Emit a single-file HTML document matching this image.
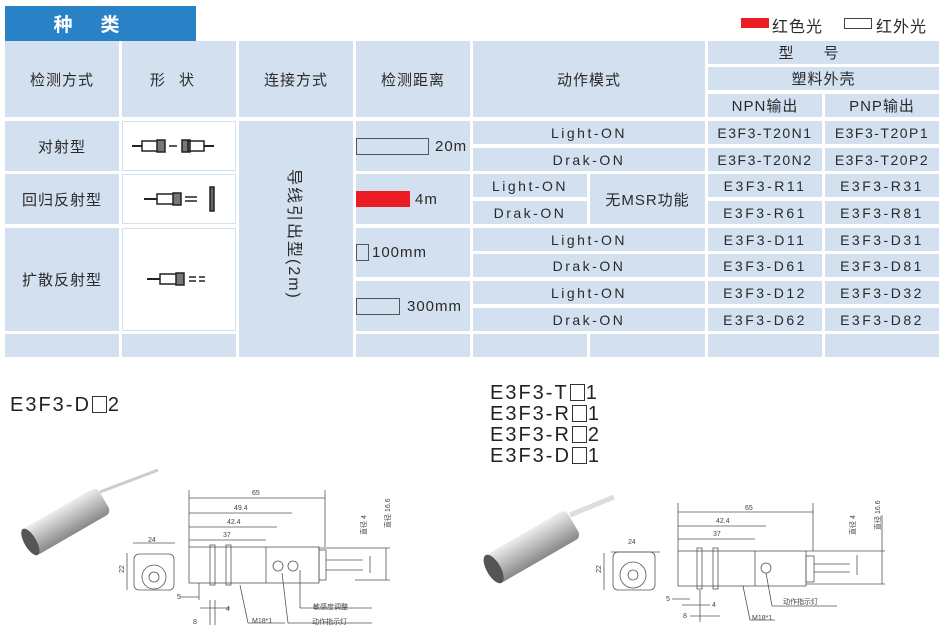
<!DOCTYPE html>
<html><head><meta charset="utf-8"><style>
body{margin:0;width:944px;height:644px;background:#fff;position:relative;overflow:hidden;font-family:"Liberation Sans","Noto Sans CJK SC",sans-serif;color:#2a2a2a}
.c{position:absolute;background:#d3e0ef;display:flex;align-items:center;justify-content:center;font-size:15px;letter-spacing:1px;white-space:nowrap}
.w{background:#fff;box-shadow:inset 0 0 0 1px #d3e0ef}
.m{font-size:14px;letter-spacing:2.5px}
.t{position:absolute;font-size:20px;letter-spacing:2px;color:#222;line-height:21px}
.bx{display:inline-block;width:13px;height:15px;border:1.5px solid #333;vertical-align:-2px;margin:0 1px}
</style></head><body>
<div style="position:absolute;left:5px;top:6px;width:191px;height:35px;background:#2a82c6;color:#fff;font-weight:bold;font-size:19px;display:flex;align-items:center;justify-content:center;letter-spacing:28px">种类</div>
<div style="position:absolute;left:741px;top:18px;width:28px;height:10px;background:#ec1c24"></div>
<div style="position:absolute;left:772px;top:13px;font-size:16px;letter-spacing:1px">红色光</div>
<div style="position:absolute;left:844px;top:18px;width:26px;height:9px;border:1px solid #444"></div>
<div style="position:absolute;left:876px;top:13px;font-size:16px;letter-spacing:1px">红外光</div>

<div class="c" style="left:5px;top:41px;width:114px;height:76px">检测方式</div>
<div class="c" style="left:122px;top:41px;width:114px;height:76px;letter-spacing:14px">形状</div>
<div class="c" style="left:239px;top:41px;width:114px;height:76px">连接方式</div>
<div class="c" style="left:356px;top:41px;width:114px;height:76px">检测距离</div>
<div class="c" style="left:473px;top:41px;width:232px;height:76px">动作模式</div>
<div class="c" style="left:708px;top:41px;width:231px;height:23px;letter-spacing:30px">型号</div>
<div class="c" style="left:708px;top:67px;width:231px;height:23px">塑料外壳</div>
<div class="c" style="left:708px;top:94px;width:114px;height:23px">NPN输出</div>
<div class="c" style="left:825px;top:94px;width:114px;height:23px">PNP输出</div>

<div class="c" style="left:5px;top:121px;width:114px;height:50px">对射型</div>
<div class="c" style="left:5px;top:174px;width:114px;height:50px">回归反射型</div>
<div class="c" style="left:5px;top:228px;width:114px;height:103px">扩散反射型</div>
<div class="c" style="left:5px;top:334px;width:114px;height:23px"></div>

<div class="c w" style="left:122px;top:121px;width:114px;height:50px"><svg width="114" height="50"><g stroke="#222" fill="none" stroke-width="1.5"><line x1="10" y1="25" x2="20" y2="25" stroke-width="2"/><rect x="20" y="20" width="18" height="10"/><rect x="35" y="19" width="8" height="12" fill="#777"/><line x1="47" y1="25" x2="55" y2="25"/><rect x="60" y="19" width="8" height="12" fill="#777"/><rect x="66" y="20" width="16" height="10"/><line x1="82" y1="25" x2="92" y2="25" stroke-width="2"/></g></svg></div>
<div class="c w" style="left:122px;top:174px;width:114px;height:50px"><svg width="114" height="50"><g stroke="#222" fill="none" stroke-width="1.5"><line x1="22" y1="25" x2="35" y2="25" stroke-width="2"/><rect x="35" y="20" width="18" height="10"/><rect x="51" y="19" width="8" height="12" fill="#777"/><line x1="63" y1="23" x2="75" y2="23"/><line x1="63" y1="27" x2="75" y2="27"/><rect x="88" y="13" width="4" height="24" fill="#666"/></g></svg></div>
<div class="c w" style="left:122px;top:228px;width:114px;height:103px"><svg width="114" height="103"><g stroke="#222" fill="none" stroke-width="1.5"><line x1="25" y1="51" x2="38" y2="51" stroke-width="2"/><rect x="38" y="46" width="18" height="10"/><rect x="54" y="45" width="8" height="12" fill="#777"/><line x1="67" y1="49" x2="74" y2="49"/><line x1="67" y1="53" x2="74" y2="53"/><line x1="77" y1="49" x2="83" y2="49"/><line x1="77" y1="53" x2="83" y2="53"/></g></svg></div>
<div class="c" style="left:122px;top:334px;width:114px;height:23px"></div>

<div class="c" style="left:239px;top:121px;width:114px;height:236px"><span style="writing-mode:vertical-rl;text-orientation:sideways;font-size:16px;letter-spacing:2px;margin-top:-10px">导线引出型(2m)</span></div>

<div class="c" style="left:356px;top:121px;width:114px;height:50px;justify-content:flex-start"><span style="display:inline-block;width:71px;height:15px;border:1px solid #555;margin-right:6px"></span>20m</div>
<div class="c" style="left:356px;top:174px;width:114px;height:50px;justify-content:flex-start"><span style="display:inline-block;width:54px;height:16px;background:#ec1c24;margin-right:5px"></span>4m</div>
<div class="c" style="left:356px;top:228px;width:114px;height:49px;justify-content:flex-start"><span style="display:inline-block;width:11px;height:15px;border:1px solid #555;margin-right:3px"></span>100mm</div>
<div class="c" style="left:356px;top:281px;width:114px;height:50px;justify-content:flex-start"><span style="display:inline-block;width:42px;height:15px;border:1px solid #555;margin-right:7px"></span>300mm</div>
<div class="c" style="left:356px;top:334px;width:114px;height:23px"></div>

<div class="c m" style="left:473px;top:121px;width:232px;height:23px">Light-ON</div>
<div class="c m" style="left:473px;top:148px;width:232px;height:23px">Drak-ON</div>
<div class="c m" style="left:473px;top:174px;width:114px;height:23px">Light-ON</div>
<div class="c m" style="left:473px;top:201px;width:114px;height:23px">Drak-ON</div>
<div class="c" style="left:590px;top:174px;width:115px;height:50px">无MSR功能</div>
<div class="c m" style="left:473px;top:228px;width:232px;height:23px">Light-ON</div>
<div class="c m" style="left:473px;top:254px;width:232px;height:23px">Drak-ON</div>
<div class="c m" style="left:473px;top:281px;width:232px;height:23px">Light-ON</div>
<div class="c m" style="left:473px;top:308px;width:232px;height:23px">Drak-ON</div>
<div class="c" style="left:473px;top:334px;width:114px;height:23px"></div>
<div class="c" style="left:590px;top:334px;width:115px;height:23px"></div>

<div class="c m" style="left:708px;top:121px;width:114px;height:23px;letter-spacing:1.5px">E3F3-T20N1</div>
<div class="c m" style="left:825px;top:121px;width:114px;height:23px;letter-spacing:1.5px">E3F3-T20P1</div>
<div class="c m" style="left:708px;top:148px;width:114px;height:23px;letter-spacing:1.5px">E3F3-T20N2</div>
<div class="c m" style="left:825px;top:148px;width:114px;height:23px;letter-spacing:1.5px">E3F3-T20P2</div>
<div class="c m" style="left:708px;top:174px;width:114px;height:23px">E3F3-R11</div>
<div class="c m" style="left:825px;top:174px;width:114px;height:23px">E3F3-R31</div>
<div class="c m" style="left:708px;top:201px;width:114px;height:23px">E3F3-R61</div>
<div class="c m" style="left:825px;top:201px;width:114px;height:23px">E3F3-R81</div>
<div class="c m" style="left:708px;top:228px;width:114px;height:23px">E3F3-D11</div>
<div class="c m" style="left:825px;top:228px;width:114px;height:23px">E3F3-D31</div>
<div class="c m" style="left:708px;top:254px;width:114px;height:23px">E3F3-D61</div>
<div class="c m" style="left:825px;top:254px;width:114px;height:23px">E3F3-D81</div>
<div class="c m" style="left:708px;top:281px;width:114px;height:23px">E3F3-D12</div>
<div class="c m" style="left:825px;top:281px;width:114px;height:23px">E3F3-D32</div>
<div class="c m" style="left:708px;top:308px;width:114px;height:23px">E3F3-D62</div>
<div class="c m" style="left:825px;top:308px;width:114px;height:23px">E3F3-D82</div>
<div class="c" style="left:708px;top:334px;width:114px;height:23px"></div>
<div class="c" style="left:825px;top:334px;width:114px;height:23px"></div>

<div class="t" style="left:10px;top:395px">E3F3-D<span class="bx"></span>2</div>
<div class="t" style="left:490px;top:383px">E3F3-T<span class="bx"></span>1<br>E3F3-R<span class="bx"></span>1<br>E3F3-R<span class="bx"></span>2<br>E3F3-D<span class="bx"></span>1</div>

<svg style="position:absolute;left:0;top:0" width="944" height="644">
<defs><linearGradient id="g" x1="0" y1="0" x2="0" y2="1"><stop offset="0" stop-color="#eee"/><stop offset=".5" stop-color="#bbb"/><stop offset="1" stop-color="#888"/></linearGradient></defs>
<g font-family="Liberation Sans,Noto Sans CJK SC,sans-serif" font-size="7" fill="#444">
<line x1="100" y1="492" x2="158" y2="470" stroke="#ccc" stroke-width="3"/>
<g transform="rotate(-30 65 522)"><rect x="22" y="507" width="88" height="30" rx="6" fill="url(#g)"/><ellipse cx="25" cy="522" rx="6" ry="15" fill="#555"/></g>
<g stroke="#555" fill="none" stroke-width="0.8">
<rect x="134" y="554" width="40" height="36" rx="5"/><circle cx="154" cy="577" r="12"/><circle cx="154" cy="577" r="5"/>
<line x1="133" y1="543" x2="175" y2="543"/><line x1="127" y1="553" x2="127" y2="590"/>
<rect x="189" y="547" width="130" height="36"/><rect x="210" y="545" width="5" height="40"/><rect x="226" y="545" width="5" height="40"/>
<line x1="266" y1="547" x2="266" y2="583"/><rect x="319" y="550" width="7" height="30"/><line x1="326" y1="560" x2="363" y2="560"/><line x1="326" y1="570" x2="363" y2="570"/>
<circle cx="278" cy="566" r="5"/><circle cx="293" cy="566" r="5"/>
<line x1="189" y1="490" x2="189" y2="547"/><line x1="325" y1="490" x2="325" y2="547"/>
<line x1="189" y1="498" x2="325" y2="498"/><line x1="189" y1="513" x2="292" y2="513"/><line x1="189" y1="527" x2="277" y2="527"/><line x1="189" y1="540" x2="266" y2="540"/>
<line x1="318" y1="548" x2="390" y2="548"/><line x1="355" y1="580" x2="390" y2="580"/><line x1="386" y1="548" x2="386" y2="580"/><line x1="370" y1="556" x2="370" y2="573"/>
<line x1="300" y1="570" x2="300" y2="608" /><line x1="300" y1="608" x2="372" y2="608"/>
<line x1="282" y1="573" x2="288" y2="623"/><line x1="288" y1="623" x2="372" y2="623"/>
<line x1="240" y1="585" x2="248" y2="623"/><line x1="248" y1="623" x2="285" y2="623"/>
<line x1="180" y1="597" x2="199" y2="597"/><line x1="199" y1="583" x2="199" y2="600"/>
<line x1="200" y1="608" x2="230" y2="608"/><line x1="210" y1="600" x2="210" y2="625"/><line x1="215" y1="600" x2="215" y2="625"/>
</g>
<text x="252" y="495">65</text><text x="234" y="510">49.4</text><text x="227" y="524">42.4</text><text x="223" y="537">37</text>
<text x="148" y="542">24</text><text x="122" y="575" transform="rotate(-90 122 573)">22</text>
<text x="177" y="599">5</text><text x="226" y="611">4</text><text x="193" y="624">8</text>
<text x="252" y="623">M18*1</text><text x="313" y="609">敏感度调整</text><text x="312" y="624">动作指示灯</text>
<text x="366" y="535" transform="rotate(-90 366 535)">直径 4</text><text x="390" y="528" transform="rotate(-90 390 528)">直径 16.6</text>
<line x1="570" y1="515" x2="614" y2="497" stroke="#ddd" stroke-width="5"/>
<g transform="rotate(-30 530 548)"><rect x="485" y="532" width="95" height="32" rx="6" fill="url(#g)"/><ellipse cx="488" cy="548" rx="7" ry="16" fill="#555"/></g>
<g stroke="#555" fill="none" stroke-width="0.8">
<rect x="613" y="552" width="42" height="38" rx="5"/><circle cx="633" cy="575" r="13"/><circle cx="633" cy="575" r="5"/>
<line x1="611" y1="552" x2="660" y2="552"/><line x1="604" y1="553" x2="604" y2="590"/>
<rect x="678" y="551" width="128" height="35"/><rect x="697" y="548" width="5" height="41"/><rect x="713" y="548" width="5" height="41"/>
<line x1="755" y1="551" x2="755" y2="586"/><rect x="806" y="556" width="8" height="26"/><line x1="814" y1="564" x2="850" y2="564"/><line x1="814" y1="572" x2="850" y2="572"/>
<circle cx="766" cy="568" r="5"/>
<line x1="678" y1="503" x2="678" y2="551"/><line x1="813" y1="503" x2="813" y2="551"/>
<line x1="678" y1="512" x2="813" y2="512"/><line x1="678" y1="526" x2="766" y2="526"/><line x1="678" y1="539" x2="755" y2="539"/>
<line x1="806" y1="551" x2="885" y2="551"/><line x1="806" y1="584" x2="885" y2="584"/><line x1="882" y1="515" x2="882" y2="584"/><line x1="857" y1="555" x2="857" y2="575"/>
<line x1="766" y1="573" x2="772" y2="606"/><line x1="772" y1="606" x2="837" y2="606"/>
<line x1="743" y1="586" x2="750" y2="620"/><line x1="750" y1="620" x2="775" y2="620"/>
<line x1="672" y1="599" x2="690" y2="599"/><line x1="682" y1="605" x2="710" y2="605"/><line x1="690" y1="616" x2="720" y2="616"/><line x1="700" y1="590" x2="700" y2="622"/>
</g>
<text x="745" y="510">65</text><text x="716" y="523">42.4</text><text x="713" y="536">37</text>
<text x="628" y="544">24</text><text x="599" y="575" transform="rotate(-90 599 573)">22</text>
<text x="666" y="601">5</text><text x="712" y="607">4</text><text x="683" y="618">8</text>
<text x="752" y="620">M18*1</text><text x="783" y="604">动作指示灯</text>
<text x="855" y="535" transform="rotate(-90 855 535)">直径 4</text><text x="880" y="530" transform="rotate(-90 880 530)">直径 16.6</text>
</g>
</svg>
</body></html>
